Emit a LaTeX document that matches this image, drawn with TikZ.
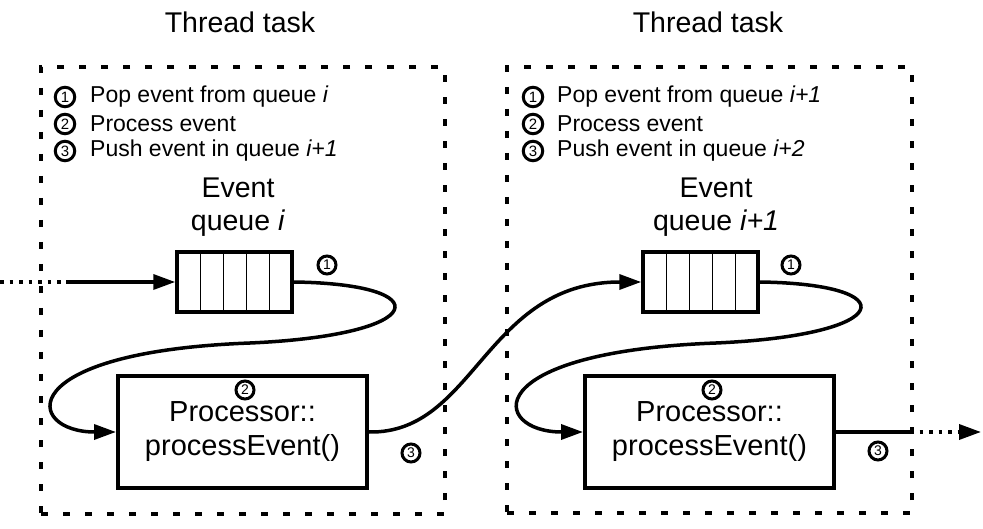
\documentclass[tikz,border=0pt]{standalone}
\usepackage{fontspec}
\setmainfont{Liberation Sans}
\usetikzlibrary{arrows.meta,positioning,calc}
\tikzset{
  flowarr/.style={-{Triangle[length=22pt,width=15pt]}, line width=3.5pt},
  dotline/.style={line width=3.5pt, dash pattern=on 3.5pt off 6pt},
  taskframe/.style={draw, line width=3.2pt, dash pattern=on 7pt off 15pt},
  numdot/.style={circle, draw, line width=3pt, inner sep=0pt, minimum size=18pt, font=\fontsize{14}{14}\selectfont},
}

\begin{document}
\begin{tikzpicture}[
  x=1pt, y=-1pt,
  tasktitle/.style={font=\fontsize{28.5}{33}\selectfont},
  legdot/.style={numdot, minimum size=19.5pt, font=\fontsize{15}{15}\selectfont},
  legtext/.style={font=\fontsize{23}{27}\selectfont, inner sep=1pt, anchor=west},
  qlabel/.style={font=\fontsize{28.5}{33}\selectfont, align=center},
  queuebox/.style={draw, line width=3.5pt, minimum width=115pt, minimum height=60pt,
    path picture={\foreach \k in {1,...,4}
      \draw[line width=1pt] ([xshift=\k*23pt]path picture bounding box.south west) -- ([xshift=\k*23pt]path picture bounding box.north west);}},
  procbox/.style={draw, line width=4pt, minimum width=249pt, minimum height=111pt, align=center,
    font=\fontsize{29}{34}\selectfont},
]
  \useasboundingbox (0,0) rectangle (983,529);

  \node[tasktitle] (ttl1) at (240,22) {Thread task};
  \node[tasktitle] (ttl2) at (708,22) {Thread task};
  \node[taskframe, minimum width=404pt, minimum height=447pt] (task1) at (243,290.5) {};
  \node[taskframe, minimum width=405pt, minimum height=446pt] (task2) at (709.5,290) {};

  \node[legdot] (la1) at (65,97) {1};
  \node[legdot] (la2) at (65,124) {2};
  \node[legdot] (la3) at (65,151) {3};
  \node[legtext] (lt1) at (89,97) {Pop event from queue \textit{i}};
  \node[legtext] (lt2) at (89,124) {Process event};
  \node[legtext] (lt3) at (89,151) {Push event in queue \textit{i+1}};
  \node[legdot] (lb1) at (533,97) {1};
  \node[legdot] (lb2) at (533,124) {2};
  \node[legdot] (lb3) at (533,151) {3};
  \node[legtext] (mt1) at (556,97) {Pop event from queue \textit{i+1}};
  \node[legtext] (mt2) at (556,124) {Process event};
  \node[legtext] (mt3) at (556,151) {Push event in queue \textit{i+2}};

  \node[qlabel] (ql1) at (238,207.5) {Event\\queue \textit{i}};
  \node[qlabel] (ql2) at (716,207.5) {Event\\queue \textit{i+1}};
  \node[queuebox] (qL) at (234.5,282) {};
  \node[queuebox] (qR) at (700.5,282) {};
  \node[procbox] (procL) at (242.5,432) {Processor::\\processEvent()};
  \node[procbox] (procR) at (709.5,432) {Processor::\\processEvent()};

  \node[numdot] (s1L) at (327,265) {1};
  \node[numdot] (s2L) at (245,390) {2};
  \node[numdot] (s3L) at (411,453) {3};
  \node[numdot] (s1R) at (791,265) {1};
  \node[numdot] (s2R) at (712,390) {2};
  \node[numdot] (s3R) at (878,451) {3};

  \coordinate (inA) at (0,282);
  \coordinate (inB) at (66,282);
  \coordinate (outA) at (910,432);
  \coordinate (outB) at (981,432);

  \draw[dotline] (inA) -- (inB);
  \draw[flowarr] (inB) -- (qL.west);
  \draw[flowarr] (qL.east) .. controls (440,284) and (430,335) .. (250,343)
    .. controls (10,352) and (25,432) .. (procL.west);
  \draw[flowarr] (procL.east) .. controls (475,434) and (485,282) .. (qR.west);
  \draw[flowarr] (qR.east) .. controls (906,284) and (896,335) .. (716,343)
    .. controls (476,352) and (491,432) .. (procR.west);
  \draw[line width=3.5pt] (procR.east) -- (outA);
  \draw[dotline, -{Triangle[length=22pt,width=15pt]}] (outA) -- (outB);
\end{tikzpicture}
\end{document}
